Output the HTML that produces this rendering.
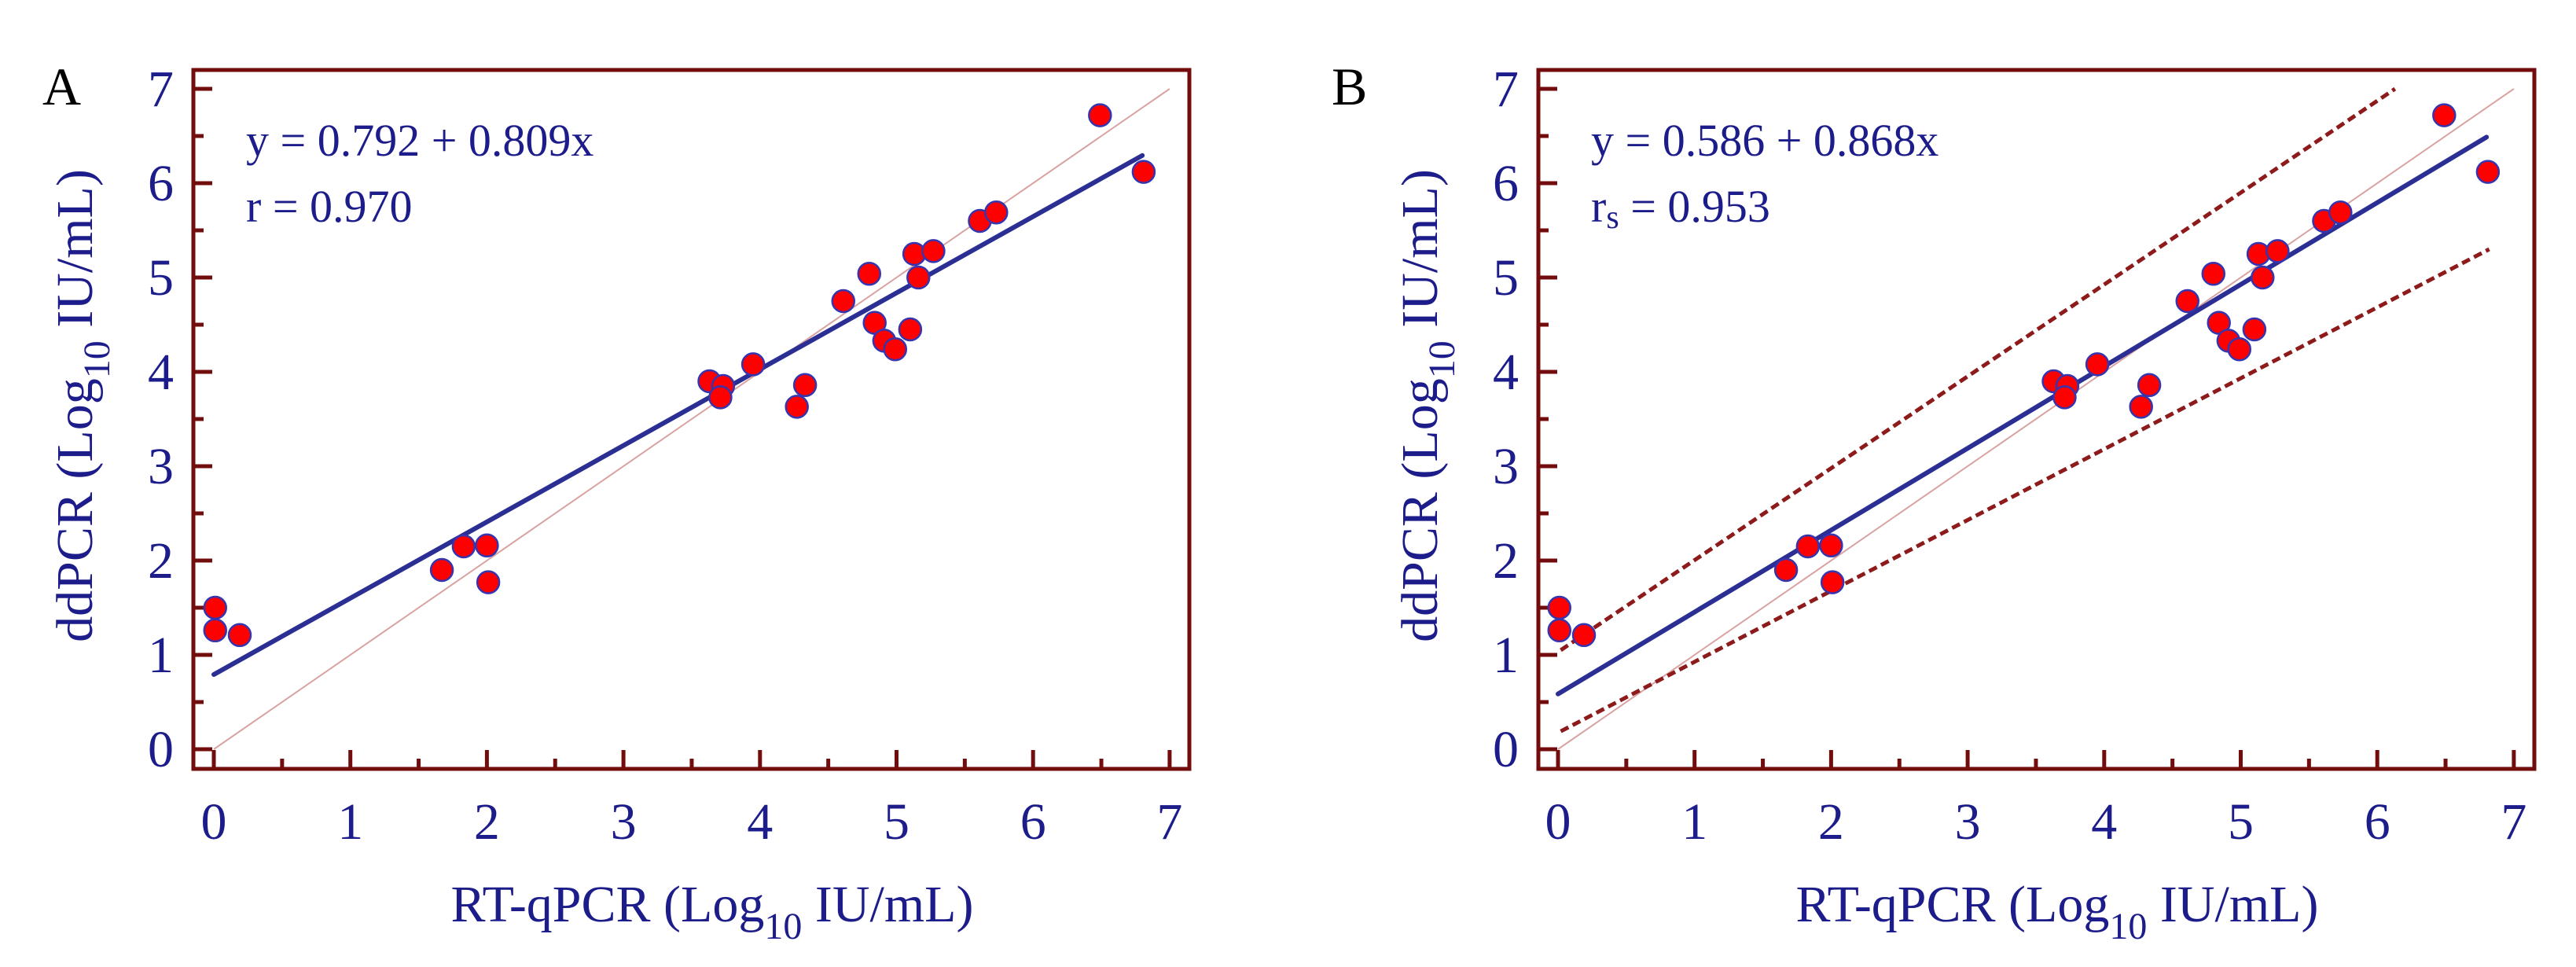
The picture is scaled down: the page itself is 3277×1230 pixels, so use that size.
<!DOCTYPE html>
<html><head><meta charset="utf-8"><style>
html,body{margin:0;padding:0;background:#fff}
svg{display:block}
text{font-family:"Liberation Serif",serif;fill:#1c1c8a}
</style></head><body>
<svg id="chart" width="3277" height="1230" viewBox="0 0 3277 1230" xmlns="http://www.w3.org/2000/svg"></svg>
<script>
const xValues=[0.01,0.01,0.19,1.67,1.83,2.0,2.01,3.63,3.73,3.71,3.95,4.27,4.33,4.61,4.80,4.84,4.91,4.99,5.10,5.13,5.16,5.27,5.61,5.73,6.49,6.81];
const yValues=[1.50,1.26,1.21,1.90,2.15,2.16,1.77,3.90,3.85,3.73,4.08,3.63,3.86,4.75,5.04,4.52,4.33,4.24,4.45,5.25,5.00,5.28,5.60,5.69,6.72,6.12];
const tickLabels=[0,1,2,3,4,5,6,7];
const regA=[0.792,0.809];
const regB=[0.586,0.868];
const regXRange=[0,6.8];
const upperBand=[[0.02,1.05],[6.13,7.0]];
const lowerBand=[[0.02,0.19],[6.82,5.3]];
const identity=[[0,0],[7,7]];

const NS="http://www.w3.org/2000/svg";
const svg=document.getElementById('chart');
function el(tag,attrs,parent){const e=document.createElementNS(NS,tag);for(const k in attrs)e.setAttribute(k,attrs[k]);(parent||svg).appendChild(e);return e;}

function panel(opts){
  const g=el('g',{});
  
  
  const X=v=>opts.x0+v*173.7;
  const Y=v=>953-v*120;
  const fr=el('rect',{x:opts.fl,y:89,width:1267,height:889,fill:'none',stroke:'#730c0c','stroke-width':5},g);
  
  
  for(let i=0;i<=14;i++){
    const v=i/2, major=i%2===0, len=major?24:13;
    const tx=el('line',{x1:X(v),x2:X(v),y1:978,y2:978-len,stroke:'#730c0c','stroke-width':5},g);
    
    
    const ty=el('line',{x1:opts.fl,x2:opts.fl+len,y1:Y(v),y2:Y(v),stroke:'#730c0c','stroke-width':5},g);
    
    
  }
  tickLabels.forEach(t=>{
    const lx=el('text',{x:X(t),y:1067,'font-size':66,'text-anchor':'middle'},g);lx.textContent=t;
    
    
    const ly=el('text',{x:opts.fl-25,y:Y(t)+22,'font-size':66,'text-anchor':'end'},g);ly.textContent=t;
    
    
  });
  const id=el('line',{x1:X(identity[0][0]),y1:Y(identity[0][1]),x2:X(identity[1][0]),y2:Y(identity[1][1]),stroke:'#d9a3a3','stroke-width':2},g);
  
  
  if(opts.bands){
    [[upperBand,'upper-limit-line'],[lowerBand,'lower-limit-line']].forEach(([b,n])=>{
      const l=el('line',{x1:X(b[0][0]),y1:Y(b[0][1]),x2:X(b[1][0]),y2:Y(b[1][1]),stroke:'#8e1b1b','stroke-width':5,'stroke-dasharray':'11 6'},g);
      
      
    });
  }
  const r=opts.reg;
  const rl=el('line',{x1:X(regXRange[0]),y1:Y(r[0]+r[1]*regXRange[0]),x2:X(regXRange[1]),y2:Y(r[0]+r[1]*regXRange[1]),stroke:'#2b2f94','stroke-width':6,'stroke-linecap':'round'},g);
  
  
  xValues.forEach((xv,i)=>{
    const c=el('circle',{cx:X(xv),cy:Y(yValues[i]),r:14,fill:'#ff0000',stroke:'#3535b0','stroke-width':2.5},g);
    
    
  });
  const eq=el('text',{x:opts.fl+67,y:198,'font-size':58},g);eq.textContent=opts.eq;
  
  
  const rr=el('text',{x:opts.fl+67,y:282,'font-size':58},g);
  rr.innerHTML=opts.rtxt;
  
  
  const pl=el('text',{x:opts.lx,y:133,'font-size':68,style:'fill:#000'},g);pl.textContent=opts.letter;
  
  
  const xt=el('text',{x:opts.fl+660,y:1172,'font-size':66,'text-anchor':'middle'},g);
  xt.innerHTML='RT-qPCR (Log<tspan font-size="48" dy="22">10</tspan><tspan dy="-22"> IU/mL)</tspan>';
  
  
  const yt=el('text',{x:0,y:0,'font-size':66,'text-anchor':'middle',transform:`translate(${opts.fl-129},516) rotate(-90)`},g);
  yt.innerHTML='ddPCR (Log<tspan font-size="48" dy="22">10</tspan><tspan dy="-22"> IU/mL)</tspan>';
  
  
}
panel({name:'panel-a',fl:246,x0:272,reg:regA,bands:false,eq:'y = 0.792 + 0.809x',rtxt:'r = 0.970',letter:'A',lx:54});
panel({name:'panel-b',fl:1957,x0:1982,reg:regB,bands:true,eq:'y = 0.586 + 0.868x',rtxt:'r<tspan font-size="42" dy="8">s</tspan><tspan dy="-8"> = 0.953</tspan>',letter:'B',lx:1694});
</script>
</body></html>
